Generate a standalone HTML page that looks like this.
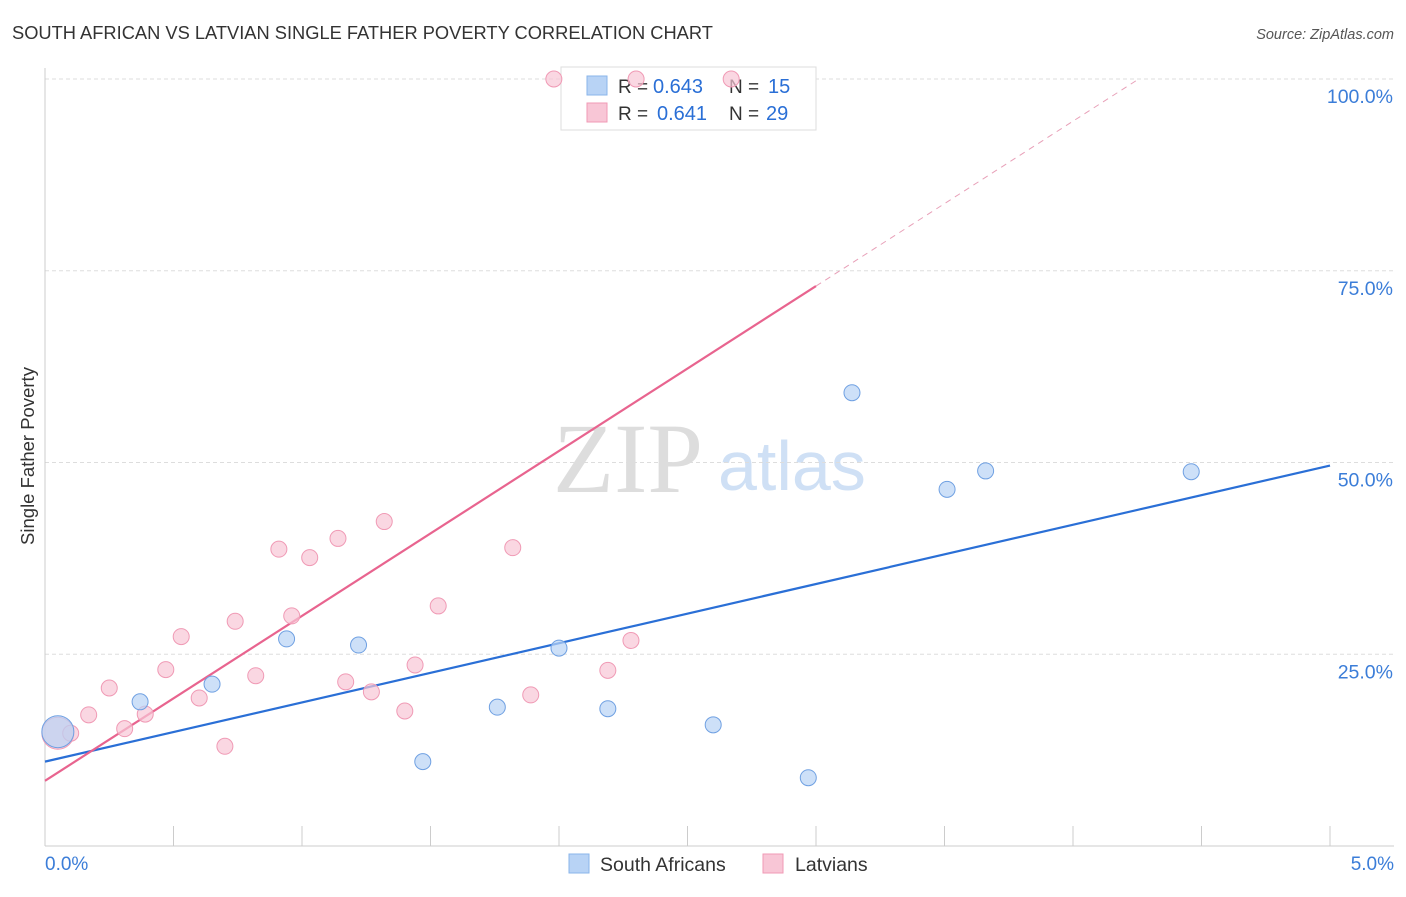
<!DOCTYPE html>
<html><head><meta charset="utf-8"><style>
body{margin:0;background:#fff;font-family:"Liberation Sans",sans-serif;}
svg text{font-family:"Liberation Sans",sans-serif;}
</style></head><body>
<svg id="c" width="1406" height="892">
<text x="12" y="39" font-size="18.3" fill="#333">SOUTH AFRICAN VS LATVIAN SINGLE FATHER POVERTY CORRELATION CHART</text>
<text x="1394" y="39" font-size="14.5" fill="#555" text-anchor="end" font-style="italic">Source: ZipAtlas.com</text>
<text x="34" y="456" font-size="18.5" fill="#333" text-anchor="middle" transform="rotate(-90 34 456)">Single Father Poverty</text>
<text x="553" y="492" font-size="100" fill="#ddd" font-family="Liberation Serif" style="font-family:'Liberation Serif',serif">ZIP</text>
<text x="718" y="490" font-size="70" fill="#cfe0f5">atlas</text>
<g id="grid"></g><g id="ticks"></g><g id="lines"></g>
<g>
<rect x="561" y="67" width="255" height="63" fill="#fff" stroke="#ddd"/>
<rect x="587" y="76" width="20" height="19" fill="#b8d3f5" stroke="#8ab4ea"/>
<rect x="587" y="103" width="20" height="19" fill="#f8c6d6" stroke="#f09ab5"/>
<text x="618" y="93" font-size="19" fill="#333">R =</text>
<text x="653" y="93" font-size="20" fill="#2a6fd6">0.643</text>
<text x="729" y="93" font-size="19" fill="#333">N =</text>
<text x="768" y="93" font-size="20" fill="#2a6fd6">15</text>
<text x="618" y="120" font-size="19" fill="#333">R =</text>
<text x="657" y="120" font-size="20" fill="#2a6fd6">0.641</text>
<text x="729" y="120" font-size="19" fill="#333">N =</text>
<text x="766" y="120" font-size="20" fill="#2a6fd6">29</text>
</g>
<g id="pts"></g>
<g>
<rect x="569" y="854" width="20" height="19" fill="#b8d3f5" stroke="#8ab4ea"/>
<text x="600" y="871" font-size="19.5" fill="#333">South Africans</text>
<rect x="763" y="854" width="20" height="19" fill="#f8c6d6" stroke="#f09ab5"/>
<text x="795" y="871" font-size="19.5" fill="#333">Latvians</text>
</g>
</svg>
<script>
const yTicks=[25,50,75,100];
const yTickLabels=["25.0%","50.0%","75.0%","100.0%"];
const xTickLabels=["0.0%","5.0%"];
const blueX=[0.05,0.37,0.65,0.94,1.22,1.47,1.76,2.00,2.19,2.60,2.97,3.14,3.51,3.66,4.46];
const blueY=[14.9,18.8,21.1,27.0,26.2,11.0,18.1,25.8,17.9,15.8,8.9,59.1,46.5,48.9,48.8];
const pinkX=[0.05,0.10,0.17,0.25,0.31,0.39,0.47,0.53,0.60,0.70,0.74,0.82,0.91,0.96,1.03,1.14,1.17,1.27,1.32,1.40,1.44,1.53,1.82,1.89,1.98,2.19,2.28,2.30,2.67];
const pinkY=[14.7,14.7,17.1,20.6,15.3,17.2,23.0,27.3,19.3,13.0,29.3,22.2,38.7,30.0,37.6,40.1,21.4,20.1,42.3,17.6,23.6,31.3,38.9,19.7,100,22.9,26.8,100,100];
const blueLine=[11.0,49.6];
const pinkLine=[8.5,73.0];
const X=v=>45+v/5*1285, Y=v=>846-v/100*767;
const NS="http://www.w3.org/2000/svg";
function mk(p,t,a){const e=document.createElementNS(NS,t);for(const k in a)e.setAttribute(k,a[k]);document.getElementById(p).appendChild(e);return e;}
yTicks.forEach((t,i)=>{
 const g=mk('grid','line',{x1:45,x2:1394,y1:Y(t),y2:Y(t),stroke:'#ddd','stroke-dasharray':'4 3'});
 
 
 const l=mk('grid','text',{x:1393,y:Y(t)+24,'font-size':19.5,fill:'#3b7dd8','text-anchor':'end'});
 l.textContent=yTickLabels[i];
 
 
});
const ax=mk('ticks','line',{x1:45,x2:1394,y1:846,y2:846,stroke:'#ccc'});


const ay=mk('ticks','line',{x1:45,x2:45,y1:68,y2:846,stroke:'#ccc'});


for(let i=0;i<=10;i++){const t=mk('ticks','line',{x1:X(i*0.5),x2:X(i*0.5),y1:826,y2:846,stroke:'#ccc'});
 
 }
[[0,'start',45],[5,'end',1394]].forEach((d,i)=>{const l=mk('ticks','text',{x:d[2],y:870,'font-size':19,fill:'#3b7dd8','text-anchor':d[1]});l.textContent=xTickLabels[i];
 
 });
const bl=mk('lines','line',{x1:X(0),y1:Y(blueLine[0]),x2:X(5),y2:Y(blueLine[1]),stroke:'#2a6fd6','stroke-width':2.2});


const slope=(pinkLine[1]-pinkLine[0])/3;
const pl=mk('lines','line',{x1:X(0),y1:Y(pinkLine[0]),x2:X(3),y2:Y(pinkLine[1]),stroke:'#e8648f','stroke-width':2.2});


const xe=(100-pinkLine[0])/slope;
const pd=mk('lines','line',{x1:X(3),y1:Y(pinkLine[1]),x2:X(xe),y2:Y(100),stroke:'#e8a0b8','stroke-width':1,'stroke-dasharray':'6 5'});


pinkX.forEach((v,i)=>{const c=mk('pts','circle',{cx:X(v),cy:Y(pinkY[i]),r:i==0?16:8,fill:'#f8c6d6','fill-opacity':0.7,stroke:'#f09ab5'});
 
 });
blueX.forEach((v,i)=>{const c=mk('pts','circle',{cx:X(v),cy:Y(blueY[i]),r:i==0?16:8,fill:'#b8d3f5','fill-opacity':0.7,stroke:'#6fa0e2'});
 
 });
</script>
</body></html>
